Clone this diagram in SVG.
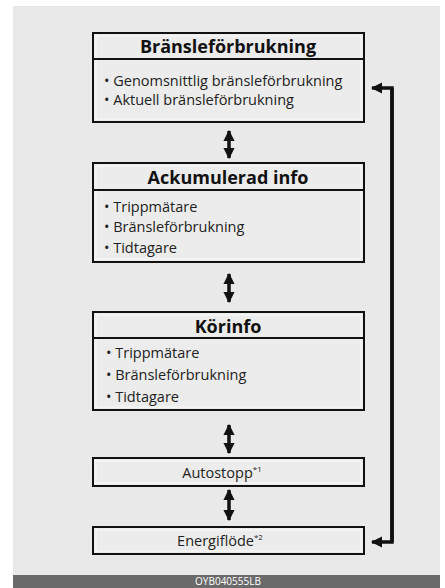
<svg xmlns="http://www.w3.org/2000/svg" width="445" height="588" viewBox="0 0 445 588">
<style>
.box{fill:#ececec;stroke:#111;stroke-width:2}
.inner{fill:none;stroke:#fafafa;stroke-width:1}
.div{stroke:#111;stroke-width:2}
.title{font-family:"Open Sans","Noto Sans",sans-serif;font-weight:bold;font-size:18px;fill:#111;text-anchor:middle}
.item{font-family:"Open Sans","Noto Sans",sans-serif;font-size:14.5px;fill:#222}
.single{font-family:"Open Sans","Noto Sans",sans-serif;font-size:14.5px;fill:#222;text-anchor:middle}
.conn{stroke:#111;stroke-width:3.5;fill:none}
.code{font-family:"Open Sans","Noto Sans",sans-serif;font-size:10px;fill:#fff;text-anchor:middle}
</style>
<defs>
<marker id="ah" viewBox="0 0 10 10" refX="9" refY="5" markerWidth="3.2" markerHeight="3.4" orient="auto-start-reverse" markerUnits="strokeWidth">
<path d="M0,0 L10,5 L0,10 Z" fill="#111"/>
</marker>
</defs>
<rect x="0" y="0" width="445" height="588" fill="#fff"/>
<rect x="13" y="6" width="427" height="569" fill="#e9e9e9"/>
<rect x="13" y="575" width="427" height="13" fill="#6a6a6a"/>
<text class="code" x="228" y="584.5">OYB040555LB</text>

<g id="n1">
<rect class="box" x="93" y="33" width="271" height="89"/>
<rect class="inner" x="96" y="36" width="265" height="83"/>
<line class="div" x1="93" y1="59" x2="364" y2="59"/>
<text class="title" x="228" y="53">Bränsleförbrukning</text>
<text class="item" x="104" y="86">• Genomsnittlig bränsleförbrukning</text>
<text class="item" x="104" y="105">• Aktuell bränsleförbrukning</text>
</g>

<g id="n2">
<rect class="box" x="93" y="163" width="271" height="99"/>
<rect class="inner" x="96" y="166" width="265" height="93"/>
<line class="div" x1="93" y1="190" x2="364" y2="190"/>
<text class="title" x="228" y="184">Ackumulerad info</text>
<text class="item" x="104" y="212">• Trippmätare</text>
<text class="item" x="104" y="232">• Bränsleförbrukning</text>
<text class="item" x="104" y="253">• Tidtagare</text>
</g>

<g id="n3">
<rect class="box" x="93" y="312" width="271" height="98"/>
<rect class="inner" x="96" y="315" width="265" height="92"/>
<line class="div" x1="93" y1="338" x2="364" y2="338"/>
<text class="title" x="228" y="333">Körinfo</text>
<text class="item" x="106" y="358">•  Trippmätare</text>
<text class="item" x="106" y="380">•  Bränsleförbrukning</text>
<text class="item" x="106" y="402">•  Tidtagare</text>
</g>

<g id="n4">
<rect class="box" x="93" y="458" width="271" height="28"/>
<rect class="inner" x="96" y="461" width="265" height="22"/>
<text class="single" x="222" y="478">Autostopp<tspan font-size="8" dy="-6">*1</tspan></text>
</g>

<g id="n5">
<rect class="box" x="93" y="527" width="271" height="27"/>
<rect class="inner" x="96" y="530" width="265" height="21"/>
<text class="single" x="220" y="546">Energiflöde<tspan font-size="8" dy="-6">*2</tspan></text>
</g>

<g id="connectors">
<line class="conn" x1="229" y1="131" x2="229" y2="158" marker-start="url(#ah)" marker-end="url(#ah)"/>
<line class="conn" x1="229" y1="274" x2="229" y2="302" marker-start="url(#ah)" marker-end="url(#ah)"/>
<line class="conn" x1="229" y1="425" x2="229" y2="453" marker-start="url(#ah)" marker-end="url(#ah)"/>
<line class="conn" x1="229" y1="490" x2="229" y2="520" marker-start="url(#ah)" marker-end="url(#ah)"/>
<polyline class="conn" points="392,542 392,88 372,88" marker-end="url(#ah)"/>
<polyline class="conn" points="392,88 392,542 372,542" marker-end="url(#ah)"/>
</g>
</svg>
